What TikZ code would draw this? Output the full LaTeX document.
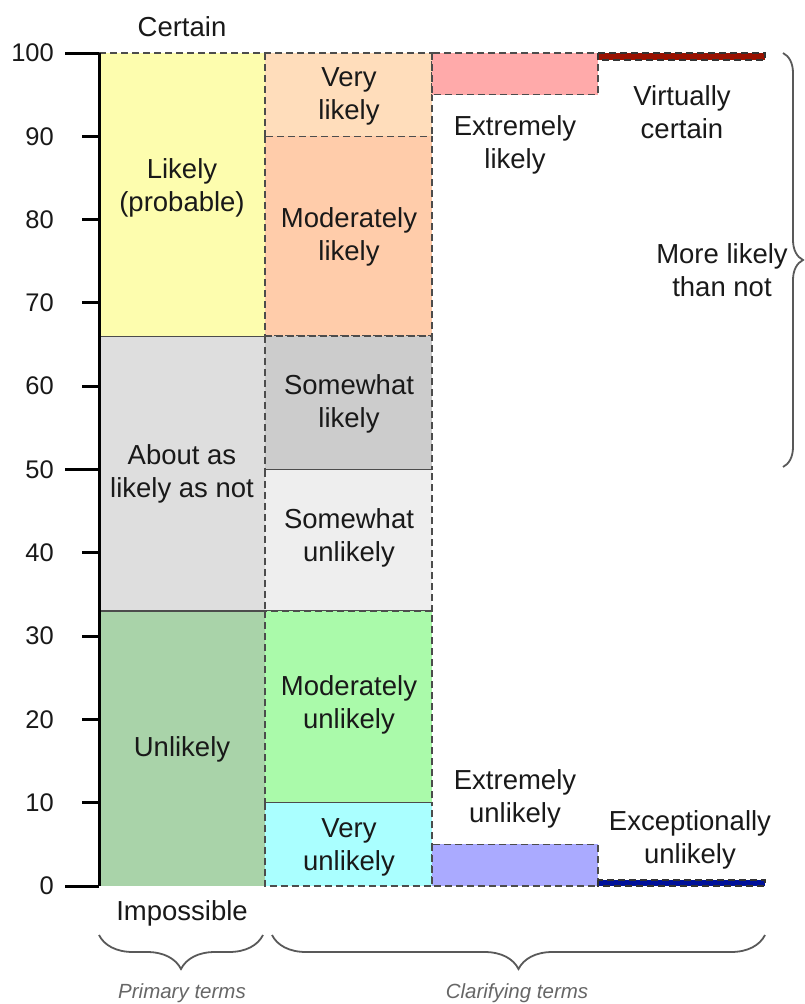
\documentclass[tikz,border=0pt]{standalone}
\usepackage{fontspec}
\setmainfont{Liberation Sans}
\usetikzlibrary{decorations.pathreplacing}
\definecolor{cLikely}{HTML}{FDFDAE}
\definecolor{cAbout}{HTML}{DEDEDE}
\definecolor{cUnlikely}{HTML}{A9D3A9}
\definecolor{cVL}{HTML}{FFDDBB}
\definecolor{cML}{HTML}{FFCCAA}
\definecolor{cSL}{HTML}{CCCCCC}
\definecolor{cSU}{HTML}{EEEEEE}
\definecolor{cMU}{HTML}{AAFAAA}
\definecolor{cVU}{HTML}{AAFFFF}
\definecolor{cEL}{HTML}{FFAAAA}
\definecolor{cEU}{HTML}{AAAAFF}
\definecolor{cVC}{HTML}{991100}
\definecolor{cXU}{HTML}{001199}
\begin{document}
\begin{tikzpicture}[x=1pt,y=-1pt,
  lbl/.style={font=\fontsize{27.5}{33}\selectfont, align=center, text=black!90, inner sep=0pt},
  ticklbl/.style={font=\fontsize{25.5}{30}\selectfont, anchor=east, text=black!90, inner sep=0pt},
  dbox/.style={draw=black!70, dash pattern=on 7pt off 4pt, line width=1.5pt},
  thickbar/.style={draw=black!80, dash pattern=on 7pt off 4pt, line width=1.8pt},
  brc/.style={decorate, decoration={brace, amplitude=#1}, draw=black!65, line width=1.8pt},
  grp/.style={font=\fontsize{20.5}{24}\selectfont\itshape, text=black!60, inner sep=0pt}]
\useasboundingbox (0,0) rectangle (805,1004);
% column 1
\fill[cLikely] (99,53) rectangle (265,336.2);
\fill[cAbout] (99,336.2) rectangle (265,611.1);
\fill[cUnlikely] (99,611.1) rectangle (265,886);
\draw[black!70, line width=1.3pt] (99,336.2) -- (265,336.2);
\draw[black!70, line width=1.3pt] (99,611.1) -- (265,611.1);
\draw[dbox] (99,53) -- (265,53);
% column 2
\draw[dbox, fill=cVL] (265,53) rectangle (432,136.3);
\draw[dbox, fill=cML] (265,136.3) rectangle (432,336.2);
\draw[dbox, fill=cSL] (265,336.2) rectangle (432,469.5);
\draw[dbox, fill=cSU] (265,469.5) rectangle (432,611.1);
\draw[dbox, fill=cMU] (265,611.1) rectangle (432,802.7);
\draw[dbox, fill=cVU] (265,802.7) rectangle (432,886);
% column 3
\draw[dbox, fill=cEL] (432,53) rectangle (598,94.65);
\draw[dbox, fill=cEU] (432,844.35) rectangle (598,886);
% column 4
\draw[thickbar, fill=cVC] (598,53) rectangle (765,60);
\draw[thickbar, fill=cXU] (598,880) rectangle (765,886);
% axis
\draw[line width=3pt] (99,53) -- (99,886);
\foreach \v/\y in {0/886,50/469.5,100/53}{
  \draw[line width=3pt] (65,\y) -- (99,\y);
}
\foreach \v/\y in {10/802.7,20/719.4,30/636.1,40/552.8,60/386.2,70/302.9,80/219.6,90/136.3}{
  \draw[line width=3pt] (82,\y) -- (99,\y);
}
\foreach \v/\y in {0/886,10/802.7,20/719.4,30/636.1,40/552.8,50/469.5,60/386.2,70/302.9,80/219.6,90/136.3,100/53}{
  \node[ticklbl] (t\v) at (54,\y) {\v};
}
% labels
\node[lbl] (certain) at (182,27) {Certain};
\node[lbl] (impossible) at (182,913) {Impossible};
\node[lbl] (likely) at (182,188) {Likely\\(probable)};
\node[lbl] (about) at (182,474) {About as\\likely as not};
\node[lbl] (unlikely) at (182,749) {Unlikely};
\node[lbl] (vl) at (349,96) {Very\\likely};
\node[lbl] (ml) at (349,237) {Moderately\\likely};
\node[lbl] (sl) at (349,404) {Somewhat\\likely};
\node[lbl] (su) at (349,538) {Somewhat\\unlikely};
\node[lbl] (mu) at (349,705) {Moderately\\unlikely};
\node[lbl] (vu) at (349,847) {Very\\unlikely};
\node[lbl] (el) at (515,145) {Extremely\\likely};
\node[lbl] (vc) at (682,112) {Virtually\\certain};
\node[lbl] (mltn) at (722,270) {More likely\\than not};
\node[lbl] (eu) at (515,799) {Extremely\\unlikely};
\node[lbl] (xu) at (690,840) {Exceptionally\\unlikely};
% braces
\coordinate (b1a) at (263,935);
\coordinate (b1b) at (99,935);
\coordinate (b2a) at (765,935);
\coordinate (b2b) at (272,935);
\coordinate (b3a) at (783,53);
\coordinate (b3b) at (783,467);
\draw[brc=34] (b1a) -- (b1b);
\draw[brc=34] (b2a) -- (b2b);
\draw[brc=20] (b3a) -- (b3b);
\node[grp] (primary) at (182,993) {Primary terms};
\node[grp] (clarifying) at (517,993) {Clarifying terms};
\end{tikzpicture}
\end{document}
